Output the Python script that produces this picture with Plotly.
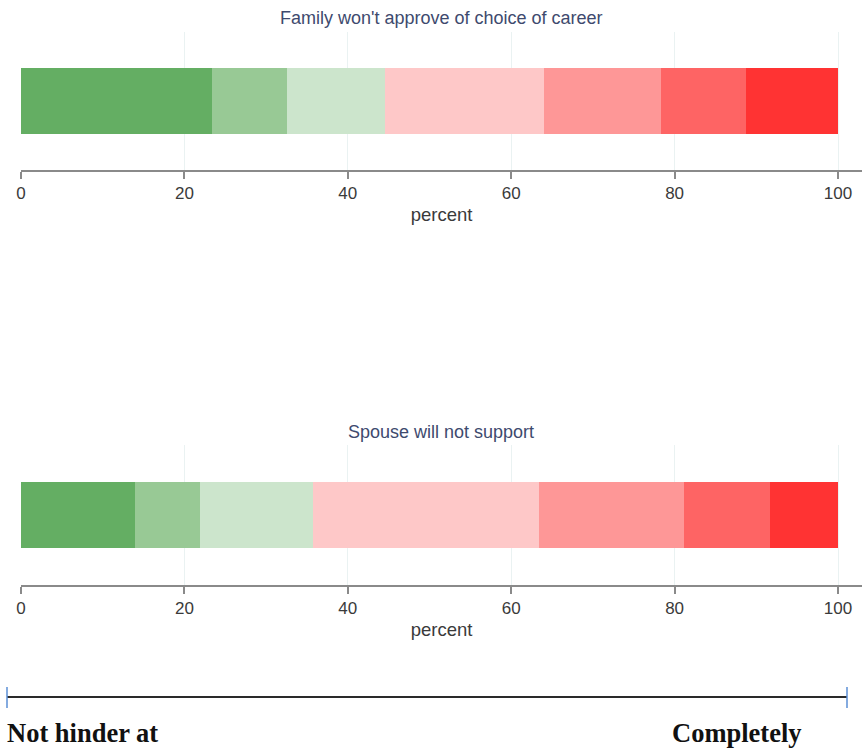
import plotly.graph_objects as go

# ---- data ----
levels = ["1", "2", "3", "4", "5", "6", "7"]
colors = ["#64ae63", "#98c995", "#cce5cc", "#fec8c8", "#fe9797", "#fe6464", "#ff3333"]
family_pct = [23.4, 9.2, 12.0, 19.4, 14.3, 10.4, 11.3]
spouse_pct = [13.9, 8.0, 13.9, 27.6, 17.7, 10.6, 8.3]
titles = ["Family won't approve of choice of career", "Spouse will not support"]
tick_vals = [0, 20, 40, 60, 80, 100]
tick_text = ["0", "20", "40", "60", "80", "100"]
scale_left = "Not hinder at"
scale_right = "Completely"

W, H = 866, 750
fig = go.Figure()

for vals, xa, ya in [(family_pct, "x", "y"), (spouse_pct, "x2", "y2")]:
    for lev, v, c in zip(levels, vals, colors):
        fig.add_trace(go.Bar(
            x=[v], y=[0], orientation="h", width=1,
            marker=dict(color=c, line=dict(width=0)),
            xaxis=xa, yaxis=ya, name=lev, showlegend=False,
            hoverinfo="x"))

x0_px, x100_px, xend_px = 21, 838, 862
xmax = 100 * (xend_px - x0_px) / (x100_px - x0_px)
xdom = [x0_px / W, xend_px / W]

def py(p):
    return 1 - p / H

axis_common = dict(
    range=[0, xmax], domain=xdom, tickvals=tick_vals, ticktext=tick_text,
    automargin=False,
    showline=True, linecolor="#8a8a8a", linewidth=2,
    ticks="outside", ticklen=7, tickcolor="#8a8a8a", tickwidth=1.5,
    showgrid=True, gridcolor="#eaf2f2", gridwidth=1,
    zeroline=False,
    tickfont=dict(family="Liberation Sans, Arial", size=17, color="#3a3a3a"),
    title=dict(text="percent", standoff=6,
               font=dict(family="Liberation Sans, Arial", size=18.5, color="#3a3a3a")),
)
yaxis_common = dict(range=[-1.06, 1.06], showticklabels=False, showgrid=False,
                    zeroline=False, showline=False, ticks="", fixedrange=True,
                    automargin=False)

fig.update_layout(
    width=W, height=H, margin=dict(l=0, r=0, t=0, b=0, autoexpand=False),
    paper_bgcolor="white", plot_bgcolor="white",
    barmode="stack", showlegend=False,
    xaxis=dict(anchor="y", **axis_common),
    xaxis2=dict(anchor="y2", **axis_common),
    yaxis=dict(domain=[py(170), py(32)], anchor="x", **yaxis_common),
    yaxis2=dict(domain=[py(585), py(445)], anchor="x2", **yaxis_common),
)

title_font = dict(family="Liberation Sans, Arial", size=18, color="#3e4a6e")
for t, ypx in zip(titles, [18, 432]):
    fig.add_annotation(text=t, x=(xdom[0] + xdom[1]) / 2, y=py(ypx),
                       xref="paper", yref="paper", showarrow=False,
                       xanchor="center", yanchor="middle", font=title_font)

# scale line at bottom
fig.add_shape(type="line", xref="paper", yref="paper",
              x0=7 / W, x1=847 / W, y0=py(697), y1=py(697),
              line=dict(color="#2a2a2a", width=2))
for xe in [7, 847]:
    fig.add_shape(type="line", xref="paper", yref="paper",
                  x0=xe / W, x1=xe / W, y0=py(687), y1=py(708),
                  line=dict(color="#5b8fd6", width=1.5))

serif = dict(family="Liberation Serif, Times New Roman", size=26.5, color="#111111")
fig.add_annotation(text="<b>" + scale_left + "</b>", x=5 / W, y=py(733),
                   xref="paper", yref="paper", showarrow=False,
                   xanchor="left", yanchor="middle", font=serif)
fig.add_annotation(text="<b>" + scale_right + "</b>", x=670 / W, y=py(733),
                   xref="paper", yref="paper", showarrow=False,
                   xanchor="left", yanchor="middle", font=serif)

fig.write_html("out.html", config={"displayModeBar": False},
               post_script="document.body.style.margin='0';document.body.style.overflow='hidden';")
